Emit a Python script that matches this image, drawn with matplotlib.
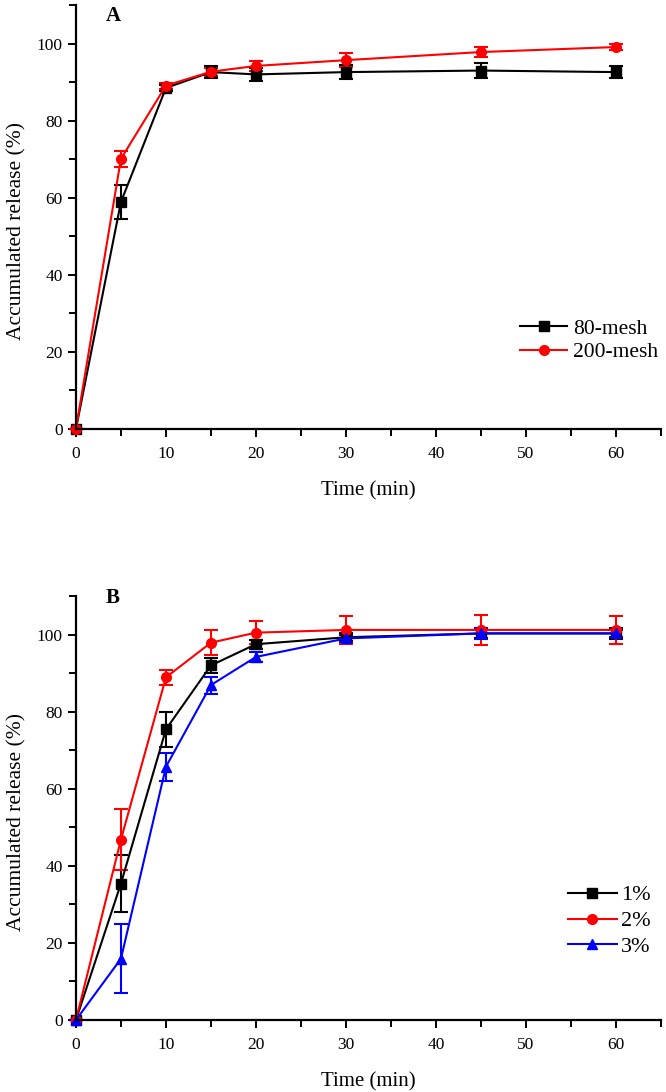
import matplotlib
matplotlib.use("Agg")
import matplotlib.pyplot as plt
from matplotlib.ticker import MultipleLocator
from matplotlib.lines import Line2D

plt.rcParams['font.family'] = ['Liberation Serif', 'DejaVu Serif']

time = [0, 5, 10, 15, 20, 30, 45, 60]

# Panel A
mesh80 = [0, 58.9, 88.5, 92.6, 92.0, 92.6, 93.0, 92.6]
mesh80_err = [0, 4.3, 0.8, 1.5, 1.6, 1.8, 1.9, 1.5]
mesh200 = [0, 70.1, 89.1, 92.7, 94.2, 95.7, 97.8, 99.1]
mesh200_err = [0, 2.0, 0.8, 1.0, 1.2, 1.8, 1.4, 0.8]

# Panel B
p1 = [0, 35.4, 75.4, 92.0, 97.5, 99.3, 100.3, 100.3]
p1_err = [0, 7.5, 4.5, 2.0, 1.2, 1.0, 1.2, 1.5]
p2 = [0, 46.8, 88.9, 97.9, 100.5, 101.2, 101.2, 101.2]
p2_err = [0, 8.0, 2.0, 3.3, 3.0, 3.7, 3.8, 3.7]
p3 = [0, 15.9, 65.7, 86.9, 94.2, 99.0, 100.3, 100.3]
p3_err = [0, 9.0, 3.6, 2.2, 1.2, 1.0, 1.5, 1.0]

fig = plt.figure(figsize=(6.66, 10.92), dpi=100)
axA = fig.add_axes([0.114, 0.6071, 0.8785, 0.3883])
axB = fig.add_axes([0.114, 0.0659, 0.8785, 0.3883])


def style(ax, letter, ly):
    ax.set_xlim(0, 65)
    ax.set_ylim(0, 110)
    for s in ['top', 'right']:
        ax.spines[s].set_visible(False)
    for s in ['left', 'bottom']:
        ax.spines[s].set_linewidth(1.6)
    ax.xaxis.set_major_locator(MultipleLocator(10))
    ax.xaxis.set_minor_locator(MultipleLocator(5))
    ax.yaxis.set_major_locator(MultipleLocator(20))
    ax.yaxis.set_minor_locator(MultipleLocator(10))
    ax.set_yticks([0, 20, 40, 60, 80, 100])
    ax.tick_params(which='both', direction='out', width=1.4, labelsize=12.5)
    ax.tick_params(axis='x', which='major', pad=6)
    ax.tick_params(which='major', length=6)
    ax.tick_params(which='minor', length=5)
    ax.set_xlabel('Time (min)', fontsize=15, labelpad=14)
    ax.set_ylabel('Accumulated release (%)', fontsize=15.5)
    ax.yaxis.set_label_coords(-0.085, 0.467)
    ax.text(0.051, ly, letter, transform=ax.transAxes, fontsize=15,
            fontweight='bold', va='center', ha='left')


def series(ax, y, err, color, marker, label):
    ax.errorbar(time, y, yerr=err, color=color, marker=marker, markersize=7,
                linewidth=1.5, capsize=5, elinewidth=1.5, capthick=1.5,
                label=label, clip_on=False)
    return Line2D([], [], color=color, marker=marker, markersize=7,
                  linewidth=1.5, label=label)


hA = [series(axA, mesh80, mesh80_err, 'black', 's', '80-mesh'),
      series(axA, mesh200, mesh200_err, 'red', 'o', '200-mesh')]
style(axA, 'A', 0.975)
axA.legend(handles=hA, loc='center left', bbox_to_anchor=(0.759, 0.2087),
           frameon=False, fontsize=15.5, handlelength=2.2, handletextpad=0.25,
           labelspacing=0.16, borderpad=0, borderaxespad=0)

hB = [series(axB, p1, p1_err, 'black', 's', '1%'),
      series(axB, p2, p2_err, 'red', 'o', '2%'),
      series(axB, p3, p3_err, 'blue', '^', '3%')]
style(axB, 'B', 0.995)
axB.legend(handles=hB, loc='center left', bbox_to_anchor=(0.841, 0.2335),
           frameon=False, fontsize=16, handlelength=2.2, handletextpad=0.2,
           labelspacing=0.24, borderpad=0, borderaxespad=0)

fig.savefig('out.png', dpi=100)
